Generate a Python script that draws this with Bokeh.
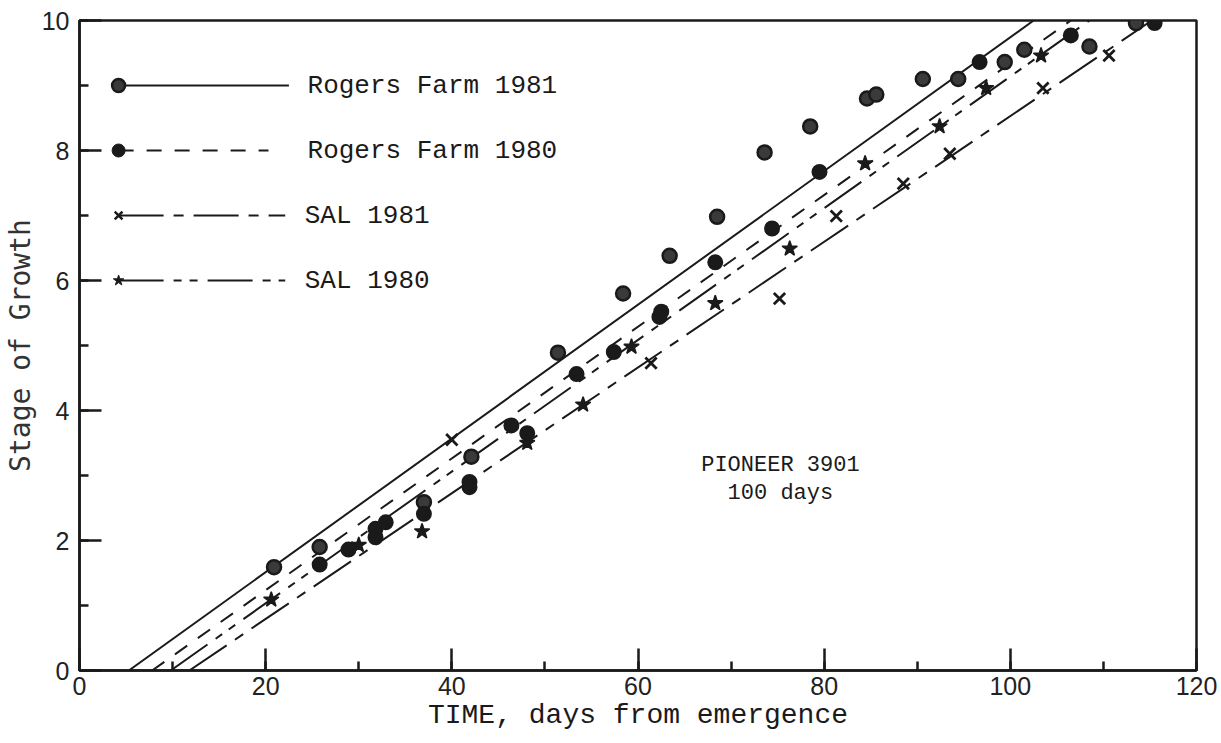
from bokeh.plotting import figure
from bokeh.models import Range1d, SingleIntervalTicker
from bokeh.core.properties import value
from bokeh.embed import file_html
from bokeh.resources import INLINE

# ---- data ----
rf81_x = [20.9, 25.8, 37.0, 42.1, 51.4, 58.4, 63.4, 68.5, 73.6, 78.5, 84.6, 85.6, 90.6, 94.4, 99.4, 101.5, 108.5, 113.5]
rf81_y = [1.59, 1.90, 2.59, 3.29, 4.89, 5.80, 6.38, 6.98, 7.97, 8.37, 8.80, 8.86, 9.10, 9.10, 9.36, 9.55, 9.60, 9.96]

rf80_x = [25.8, 28.9, 31.8, 31.8, 32.9, 37.0, 41.9, 41.9, 46.4, 48.1, 53.4, 57.4, 62.3, 62.5, 68.3, 74.4, 79.5, 96.7, 106.5, 115.5]
rf80_y = [1.63, 1.86, 2.18, 2.05, 2.28, 2.41, 2.90, 2.82, 3.77, 3.65, 4.56, 4.90, 5.44, 5.52, 6.28, 6.80, 7.67, 9.36, 9.77, 9.96]

sal81_x = [40.0, 61.4, 75.2, 81.3, 88.5, 93.5, 103.5, 110.6]
sal81_y = [3.55, 4.73, 5.72, 6.99, 7.49, 7.95, 8.96, 9.46]

sal80_x = [20.6, 30.0, 36.8, 48.1, 54.1, 59.3, 68.3, 76.3, 84.4, 92.4, 97.4, 103.3]
sal80_y = [1.09, 1.93, 2.14, 3.50, 4.09, 4.98, 5.65, 6.49, 7.80, 8.37, 8.96, 9.46]

# fitted lines: day at stage 0 and at stage 10
fit_y = [0, 10]
rf81_fit = [5.3, 102.5]
rf80_fit = [7.8, 106.5]
sal80_fit = [9.8, 108.5]
sal81_fit = [11.8, 115.2]

series_names = ["Rogers Farm 1981", "Rogers Farm 1980", "SAL  1981", "SAL  1980"]
x_ticks_interval = 20
y_ticks_interval = 2

INK = "#1a1a1a"

p = figure(width=1221, height=743, x_range=Range1d(0, 120), y_range=Range1d(0, 10),
           output_backend="svg", toolbar_location=None,
           min_border_left=77, min_border_right=25, min_border_top=20, min_border_bottom=73)
p.background_fill_color = "white"
p.border_fill_color = "white"
p.xgrid.visible = False
p.ygrid.visible = False
p.outline_line_color = INK
p.outline_line_width = 2.5

p.xaxis.ticker = SingleIntervalTicker(interval=x_ticks_interval, num_minor_ticks=2)
p.yaxis.ticker = SingleIntervalTicker(interval=y_ticks_interval, num_minor_ticks=2)
for ax in (p.xaxis[0], p.yaxis[0]):
    ax.major_tick_in = 22
    ax.major_tick_out = 0
    ax.minor_tick_in = 9
    ax.minor_tick_out = 0
    ax.axis_line_width = 2.5
    ax.axis_line_color = INK
    ax.major_tick_line_width = 2.5
    ax.minor_tick_line_width = 2.5
    ax.major_tick_line_color = INK
    ax.minor_tick_line_color = INK
    ax.major_label_text_font = "Liberation Sans"
    ax.major_label_text_font_size = "25px"
    ax.major_label_text_color = "#222222"
    ax.axis_label_text_font_style = "normal"

p.xaxis.major_label_standoff = 6
p.xaxis.axis_label = "TIME, days from emergence"
p.xaxis.axis_label_text_font = "Liberation Mono"
p.xaxis.axis_label_text_font_size = "28px"
p.xaxis.axis_label_text_color = INK
p.xaxis.axis_label_standoff = 2

p.yaxis.major_label_standoff = 10
p.yaxis.axis_label = "Stage of Growth"
p.yaxis.axis_label_text_font = "DejaVu Sans Mono"
p.yaxis.axis_label_text_font_size = "28px"
p.yaxis.axis_label_text_color = "#333333"
p.yaxis.axis_label_standoff = 2

# fitted lines
p.line(rf81_fit, fit_y, line_color=INK, line_width=2)
p.line(rf80_fit, fit_y, line_color=INK, line_width=2, line_dash="15 13")
p.line(sal80_fit, fit_y, line_color=INK, line_width=2, line_dash="45 10 8 8 8 10")
p.line(sal81_fit, fit_y, line_color=INK, line_width=2, line_dash="45 10 10 10")

# points
p.scatter(rf81_x, rf81_y, marker="circle", size=14, fill_color="#3a3a3a", line_color=INK, line_width=2.5)
p.scatter(rf80_x, rf80_y, marker="circle", size=14, fill_color=INK, line_color=INK, line_width=2)
p.scatter(sal81_x, sal81_y, marker="x", size=16, line_color=INK, line_width=2.8)
p.scatter(sal80_x, sal80_y, marker="star", size=16, fill_color=INK, line_color=INK, line_width=1.5)

# in-plot legend (layout positions)
leg_y = [9, 8, 7, 6]
leg_marker_x = 4.2
leg_line_end = [22.5, 20.3, 22.1, 22.1]
leg_text_x = [24.5, 24.5, 24.2, 24.2]
dashes = ["solid", "15 13", "45 10 10 10", "45 10 8 8 8 10"]
for i in range(4):
    p.line([leg_marker_x, leg_line_end[i]], [leg_y[i], leg_y[i]], line_color=INK, line_width=2,
           line_dash=dashes[i])
p.scatter([leg_marker_x], [leg_y[0]], marker="circle", size=13, fill_color="#3a3a3a", line_color=INK, line_width=2.5)
p.scatter([leg_marker_x], [leg_y[1]], marker="circle", size=13, fill_color=INK, line_color=INK)
p.scatter([leg_marker_x], [leg_y[2]], marker="x", size=11, line_color=INK, line_width=2.5)
p.scatter([leg_marker_x], [leg_y[3]], marker="star", size=11, fill_color=INK, line_color=INK)
p.text(x=leg_text_x, y=leg_y, text=series_names, text_font=value("Liberation Mono"),
       text_font_size="26px", text_baseline="middle", text_color=INK)

# annotation
p.text(x=[75.3, 75.3], y=[3.15, 2.73], text=["PIONEER 3901", "100 days"],
       text_font=value("Liberation Mono"), text_font_size="22px", text_align="center",
       text_baseline="middle", text_color=INK)

open("out.html", "w").write(file_html(p, INLINE))
